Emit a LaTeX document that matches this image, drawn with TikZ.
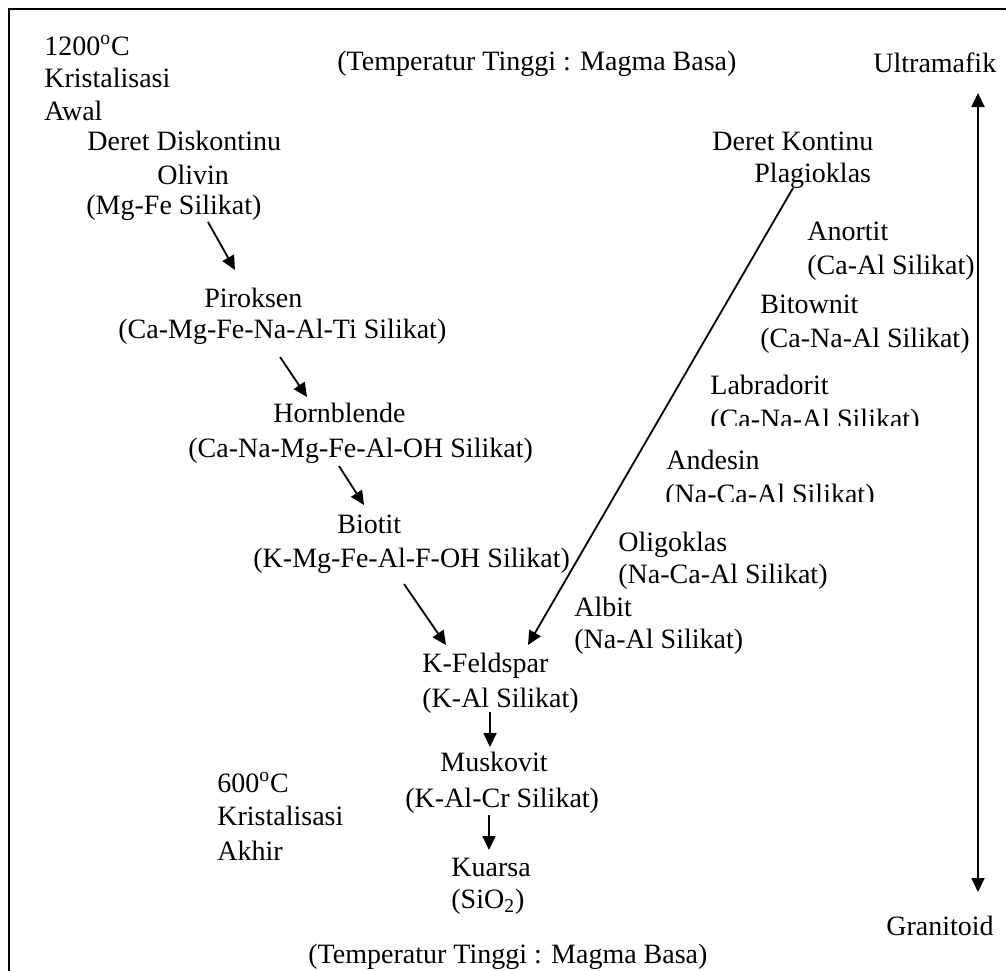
\documentclass[tikz,border=0pt]{standalone}
\usepackage{fontspec}
\setmainfont{Liberation Serif}
\usetikzlibrary{arrows.meta}
\begin{document}
\begin{tikzpicture}[x=0.5pt,y=-0.5pt,
  lbl/.style={anchor=base west,inner sep=0pt,font=\fontsize{14}{16}\selectfont},
  arr/.style={line width=0.9pt,-{Triangle[length=7pt,width=6.5pt]}},
  darr/.style={line width=0.9pt,{Triangle[length=7pt,width=6.5pt]}-{Triangle[length=7pt,width=6.5pt]}},
  frame/.style={line width=1pt}]
\useasboundingbox (0,0) rectangle (1006,970);
% frame
\coordinate (fTL) at (9,9); \coordinate (fTR) at (1010,9); \coordinate (fBL) at (9,975);
\draw[frame] (fBL) -- (fTL) -- (fTR);

% header texts
\node[lbl] (t1200) at (44,55) {1200\textsuperscript{o}C};
\node[lbl] (kawal1) at (44,87) {Kristalisasi};
\node[lbl] (kawal2) at (44,120) {Awal};
\node[lbl] (ttop) at (337,70) {(Temperatur Tinggi : Magma Basa)};
\node[lbl] (ultra) at (873,72) {Ultramafik};
\node[lbl] (gran) at (886,935) {Granitoid};
\node[lbl] (tbot) at (308,963) {(Temperatur Tinggi : Magma Basa)};

% discontinuous series
\node[lbl] (dd) at (87,150) {Deret Diskontinu};
\node[lbl] (oli) at (157,184) {Olivin};
\node[lbl] (oli2) at (86,214) {(Mg-Fe Silikat)};
\node[lbl] (pir) at (204,307) {Piroksen};
\node[lbl] (pir2) at (118,338) {(Ca-Mg-Fe-Na-Al-Ti Silikat)};
\node[lbl] (hor) at (273,422) {Hornblende};
\node[lbl] (hor2) at (188,457) {(Ca-Na-Mg-Fe-Al-OH Silikat)};
\node[lbl] (bio) at (337,533) {Biotit};
\node[lbl] (bio2) at (253,567) {(K-Mg-Fe-Al-F-OH Silikat)};
\node[lbl] (kf) at (422,672) {K-Feldspar};
\node[lbl] (kf2) at (422,707) {(K-Al Silikat)};
\node[lbl] (mus) at (440,771) {Muskovit};
\node[lbl] (mus2) at (405,807) {(K-Al-Cr Silikat)};
\node[lbl] (kua) at (451,876) {Kuarsa};
\node[lbl] (kua2) at (451,908) {(SiO\textsubscript{2})};
\node[lbl] (t600) at (217,792) {600\textsuperscript{o}C};
\node[lbl] (kak1) at (217,825) {Kristalisasi};
\node[lbl] (kak2) at (217,860) {Akhir};

% continuous series
\node[lbl] (dk) at (712,150) {Deret Kontinu};
\node[lbl] (pla) at (754,182) {Plagioklas};
\node[lbl] (ano) at (807,240) {Anortit};
\node[lbl] (ano2) at (807,274) {(Ca-Al Silikat)};
\node[lbl] (bit) at (760,313) {Bitownit};
\node[lbl] (bit2) at (760,347) {(Ca-Na-Al Silikat)};
\node[lbl] (lab) at (710,394) {Labradorit};
\begin{scope}
\clip (690,400) rectangle (1000,425);
\node[lbl] (lab2) at (710,428) {(Ca-Na-Al Silikat)};
\end{scope}
\node[lbl] (and) at (666,469) {Andesin};
\begin{scope}
\clip (640,475) rectangle (1000,501);
\node[lbl] (and2) at (665,503) {(Na-Ca-Al Silikat)};
\end{scope}
\node[lbl] (oli3) at (618,551) {Oligoklas};
\node[lbl] (oli4) at (618,583) {(Na-Ca-Al Silikat)};
\node[lbl] (alb) at (574,616) {Albit};
\node[lbl] (alb2) at (574,648) {(Na-Al Silikat)};

% arrow end points
\coordinate (a1s) at (208,222); \coordinate (a1e) at (235,270);
\coordinate (a2s) at (280,357); \coordinate (a2e) at (307,397);
\coordinate (a3s) at (339,466); \coordinate (a3e) at (364,505);
\coordinate (a4s) at (404,584); \coordinate (a4e) at (446,645);
\coordinate (a5s) at (490,712); \coordinate (a5e) at (490,747);
\coordinate (a6s) at (489,815); \coordinate (a6e) at (489,850);
\coordinate (pls) at (793,188); \coordinate (ple) at (528,645);
\coordinate (vt) at (978,93); \coordinate (vb) at (978,892);

\draw[arr] (a1s) -- (a1e);
\draw[arr] (a2s) -- (a2e);
\draw[arr] (a3s) -- (a3e);
\draw[arr] (a4s) -- (a4e);
\draw[arr] (a5s) -- (a5e);
\draw[arr] (a6s) -- (a6e);
\draw[arr] (pls) -- (ple);
\draw[darr] (vt) -- (vb);
\end{tikzpicture}
\end{document}
